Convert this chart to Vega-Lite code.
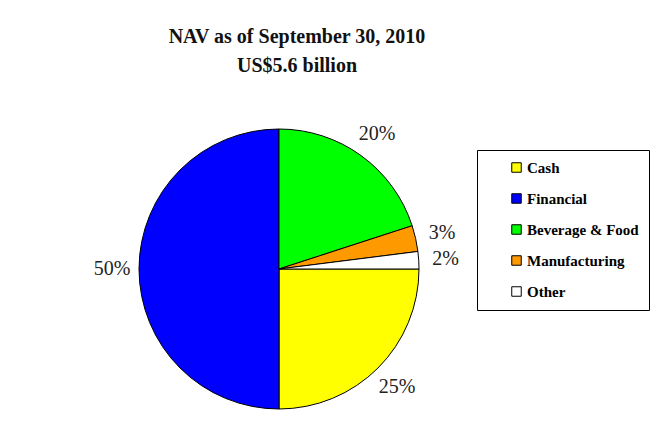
{
  "$schema": "https://vega.github.io/schema/vega-lite/v6.json",
  "autosize": "none",
  "width": 280,
  "height": 280,
  "padding": {"left": 139, "top": 129, "right": 242, "bottom": 28},
  "background": "white",
  "config": {"view": {"stroke": null}},
  "title": {
    "text": ["NAV as of September 30, 2010", "US$5.6 billion"],
    "font": "Liberation Serif",
    "fontSize": 20,
    "fontWeight": "bold",
    "lineHeight": 29,
    "color": "#111",
    "anchor": "middle",
    "dx": 18,
    "offset": 48
  },
  "data": {
    "values": [
      {"sector": "Cash", "value": 25, "idx": 1, "label": "25%"},
      {"sector": "Financial", "value": 50, "idx": 2, "label": "50%"},
      {"sector": "Beverage & Food", "value": 20, "idx": 3, "label": "20%"},
      {"sector": "Manufacturing", "value": 3, "idx": 4, "label": "3%"},
      {"sector": "Other", "value": 2, "idx": 5, "label": "2%"}
    ]
  },
  "encoding": {
    "theta": {"field": "value", "type": "quantitative", "stack": true, "scale": {"range": [1.5707963, 7.8539816]}},
    "order": {"field": "idx", "type": "quantitative"}
  },
  "layer": [
    {
      "mark": {"type": "arc", "radius": 140, "stroke": "#000", "strokeWidth": 1},
      "encoding": {
        "color": {
          "field": "sector",
          "type": "nominal",
          "scale": {
            "domain": ["Cash", "Financial", "Beverage & Food", "Manufacturing", "Other"],
            "range": ["#FFFF00", "#0000FF", "#00FF00", "#FF9900", "#FFFFFF"]
          },
          "legend": {
            "orient": "none",
            "legendX": 338,
            "legendY": 21,
            "title": null,
            "strokeColor": "#000",
            "padding": 10,
            "rowPadding": 15,
            "symbolType": "square",
            "symbolSize": 90,
            "symbolStrokeColor": "#000",
            "symbolStrokeWidth": 1,
            "symbolOffset": 22,
            "labelOffset": 3,
            "labelFont": "Liberation Serif",
            "labelFontSize": 15,
            "labelFontWeight": "bold",
            "labelColor": "#000"
          }
        }
      }
    },
    {
      "mark": {"type": "text", "radius": 167, "font": "Liberation Serif", "fontSize": 20, "color": "#222", "align": "center", "baseline": "middle"},
      "encoding": {
        "text": {"field": "label", "type": "nominal"}
      }
    }
  ]
}
